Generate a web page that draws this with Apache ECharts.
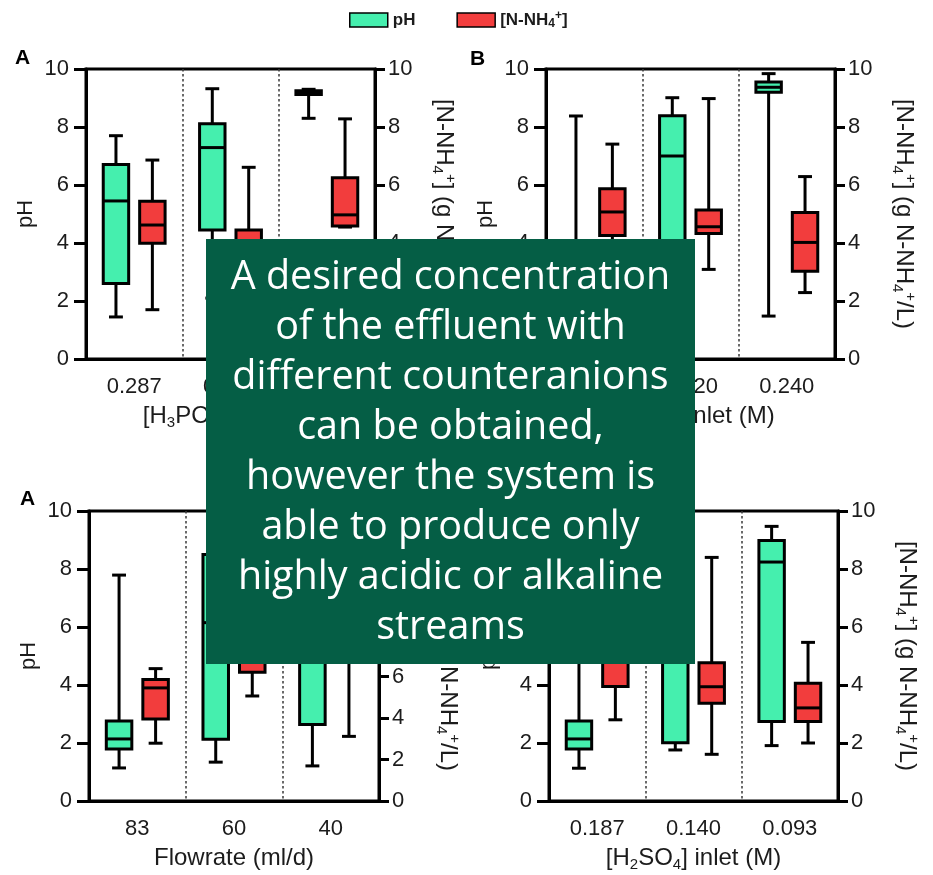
<!DOCTYPE html>
<html>
<head>
<meta charset="utf-8">
<script src="https://cdn.jsdelivr.net/npm/echarts@6/dist/echarts.min.js"></script>
<style>
  html, body { margin: 0; padding: 0; background: #ffffff; }
  #chart { width: 933px; height: 875px; }
</style>
</head>
<body>
<div id="chart"></div>
<script>
// Category labels of each panel
const catsA = ['0.287', '0.215', '0.143'];
const catsB = ['0.480', '0.320', '0.240'];
const catsC = ['83', '60', '40'];
const catsD = ['0.187', '0.140', '0.093'];

// Box statistics per category: [min, Q1, median, Q3, max]
const phA = [[1.45, 2.60, 5.45, 6.71, 7.70], [2.10, 4.45, 7.29, 8.11, 9.32], [8.30, 9.12, 9.18, 9.25, 9.30]];
const nhA = [[1.70, 3.99, 4.62, 5.44, 6.86], [2.40, 3.30, 3.90, 4.45, 6.61], [4.55, 4.59, 4.97, 6.25, 8.28]];
const phB = [[1.50, 2.00, 2.60, 3.50, 8.38], [2.00, 3.00, 7.00, 8.39, 9.01], [1.48, 9.20, 9.37, 9.55, 9.84]];
const nhB = [[3.30, 4.26, 5.07, 5.87, 7.41], [3.09, 4.33, 4.56, 5.14, 8.98], [2.29, 3.03, 4.02, 5.05, 6.29]];
const phC = [[1.14, 1.79, 2.14, 2.76, 7.79], [1.34, 2.13, 6.15, 8.50, 9.30], [1.21, 2.64, 6.00, 8.50, 9.50]];
const nhC = [[2.79, 3.96, 5.46, 5.87, 6.39], [5.07, 6.21, 7.00, 8.00, 9.50], [3.12, 7.00, 8.50, 10.00, 12.00]];
const phD = [[1.13, 1.79, 2.14, 2.76, 7.79], [1.76, 2.01, 6.00, 8.00, 9.00], [1.91, 2.74, 8.24, 8.98, 9.47]];
const nhD = [[2.80, 3.95, 5.46, 5.87, 6.39], [1.61, 3.37, 3.94, 4.77, 8.40], [2.00, 2.74, 3.21, 4.06, 5.47]];

// Right-axis ranges per panel
const rightMax = [10, 10, 14, 10];

const GREEN = '#45efae';
const RED = '#f23d3d';
const INK = '#1c1c1c';
const FONT = '"Liberation Sans", Arial, sans-serif';

function richName(size) {
  const sub = Math.round(size * 0.62);
  return {
    fontSize: size, fontFamily: FONT, color: INK, lineHeight: size + 4,
    rich: {
      sub: { fontSize: sub, fontFamily: FONT, color: INK, verticalAlign: 'bottom', lineHeight: 10 },
      sup: { fontSize: sub, fontFamily: FONT, color: INK, verticalAlign: 'top', lineHeight: 10 }
    }
  };
}
const bigName = richName(24);
const phName = richName(22);

const panels = [
  { cats: catsA, ph: phA, nh: nhA, xName: '[H{sub|3}PO{sub|4}] inlet (M)', grid: { left: 86, top: 69, width: 289, height: 290 } },
  { cats: catsB, ph: phB, nh: nhB, xName: '[HNO{sub|3}] inlet (M)', grid: { left: 546, top: 69, width: 289, height: 290 } },
  { cats: catsC, ph: phC, nh: nhC, xName: 'Flowrate (ml/d)', grid: { left: 89, top: 511, width: 290, height: 290 } },
  { cats: catsD, ph: phD, nh: nhD, xName: '[H{sub|2}SO{sub|4}] inlet (M)', grid: { left: 549, top: 511, width: 289, height: 290 } }
];

// Draws one box-and-whisker per category, shifted left (pH) or right (N-NH4+) inside the band
function makeBoxRenderer(side, color) {
  return function (params, api) {
    const cat = api.value(0);
    const band = api.size([1, 0])[0];
    const cx = api.coord([cat, 0])[0] + side * band * 0.189;
    const y = (i) => api.coord([cat, api.value(i)])[1];
    const yMin = y(1), yQ1 = y(2), yMed = y(3), yQ3 = y(4), yMax = y(5);
    const hw = band * 0.132;
    const cw = band * 0.072;
    const stroke = { stroke: '#000', lineWidth: 3 };
    return {
      type: 'group',
      children: [
        { type: 'line', shape: { x1: cx, y1: yMax, x2: cx, y2: yMin }, style: stroke },
        { type: 'line', shape: { x1: cx - cw, y1: yMax, x2: cx + cw, y2: yMax }, style: stroke },
        { type: 'line', shape: { x1: cx - cw, y1: yMin, x2: cx + cw, y2: yMin }, style: stroke },
        { type: 'rect', shape: { x: cx - hw, y: yQ3, width: hw * 2, height: yQ1 - yQ3 },
          style: { fill: color, stroke: '#000', lineWidth: 3 } },
        { type: 'line', shape: { x1: cx - hw, y1: yMed, x2: cx + hw, y2: yMed }, style: stroke }
      ]
    };
  };
}

const toItems = (stats) => stats.map((s, i) => [i].concat(s));

const grids = [], xAxes = [], yAxes = [], series = [];
panels.forEach((p, k) => {
  grids.push(Object.assign({ show: true, borderColor: '#000', borderWidth: 3, backgroundColor: 'transparent',
    outerBoundsMode: 'none', containLabel: false }, p.grid));
  xAxes.push({
    type: 'category', gridIndex: k, data: p.cats, boundaryGap: true,
    axisLine: { show: true, lineStyle: { color: '#000', width: 3 } },
    axisTick: { show: false },
    axisLabel: { fontSize: 22, fontFamily: FONT, color: INK, margin: 17 },
    splitLine: { show: true, lineStyle: { color: '#3a3a3a', width: 1.5, type: [2.5, 2.5] } },
    name: p.xName, nameLocation: 'middle', nameGap: 43, nameMoveOverlap: false,
    nameTextStyle: bigName, z: 0
  });
  yAxes.push({
    type: 'value', gridIndex: k, position: 'left', min: 0, max: 10, interval: 2,
    axisLine: { show: true, lineStyle: { color: '#000', width: 3 } },
    axisTick: { show: true, length: 12, lineStyle: { color: '#000', width: 3 } },
    axisLabel: { fontSize: 22, fontFamily: FONT, color: INK, margin: 17 },
    splitLine: { show: false },
    name: 'pH', nameLocation: 'middle', nameGap: 47, nameRotate: 90, nameMoveOverlap: false,
    nameTextStyle: phName, z: 5
  });
  yAxes.push({
    type: 'value', gridIndex: k, position: 'right', min: 0, max: rightMax[k], interval: 2,
    axisLine: { show: true, lineStyle: { color: '#000', width: 3 } },
    axisTick: { show: true, length: 10, lineStyle: { color: '#000', width: 3 } },
    axisLabel: { fontSize: 22, fontFamily: FONT, color: INK, margin: 13 },
    splitLine: { show: false },
    name: '[N-NH{sub|4}{sup|+}] (g N-NH{sub|4}{sup|+}/L)', nameLocation: 'middle', nameGap: 55,
    nameRotate: -90, nameMoveOverlap: false, nameTextStyle: bigName, z: 5
  });
  series.push({
    name: 'pH', type: 'custom', xAxisIndex: k, yAxisIndex: 2 * k,
    itemStyle: { color: GREEN }, renderItem: makeBoxRenderer(-1, GREEN),
    encode: { x: 0, y: [1, 2, 3, 4, 5] }, data: toItems(p.ph), z: 2
  });
  series.push({
    name: '[N-NH4+]', type: 'custom', xAxisIndex: k, yAxisIndex: 2 * k + 1,
    itemStyle: { color: RED }, renderItem: makeBoxRenderer(1, RED),
    encode: { x: 0, y: [1, 2, 3, 4, 5] }, data: toItems(p.nh), z: 2
  });
});

const legendText = { fontSize: 17, fontWeight: 'bold', fontFamily: FONT, color: INK, lineHeight: 20 };

const noteLines = [
  'A desired concentration',
  'of the effluent with',
  'different counteranions',
  'can be obtained,',
  'however the system is',
  'able to produce only',
  'highly acidic or alkaline',
  'streams'
];

const option = {
  animation: false,
  backgroundColor: '#ffffff',
  grid: grids,
  xAxis: xAxes,
  yAxis: yAxes,
  series: series,
  legend: {
    left: 349, top: 10, padding: 0, itemWidth: 38, itemHeight: 14, itemGap: 41, icon: 'rect',
    selectedMode: false,
    data: [
      { name: 'pH', itemStyle: { color: GREEN, borderColor: '#000', borderWidth: 1.5 } },
      { name: '[N-NH4+]', itemStyle: { color: RED, borderColor: '#000', borderWidth: 1.5 } }
    ],
    formatter: (n) => n === 'pH' ? 'pH' : '[N-NH{lsub|4}{lsup|+}]',
    textStyle: Object.assign({}, legendText, {
      rich: {
        lsub: { fontSize: 12, fontWeight: 'bold', fontFamily: FONT, color: INK, verticalAlign: 'bottom', lineHeight: 8 },
        lsup: { fontSize: 12, fontWeight: 'bold', fontFamily: FONT, color: INK, verticalAlign: 'top', lineHeight: 8 }
      }
    })
  },
  graphic: [
    { type: 'text', left: 15, top: 48, style: { text: 'A', fontSize: 21, fontWeight: 'bold', fontFamily: FONT, fill: '#000' } },
    { type: 'text', left: 470, top: 49, style: { text: 'B', fontSize: 21, fontWeight: 'bold', fontFamily: FONT, fill: '#000' } },
    { type: 'text', left: 20, top: 489, style: { text: 'A', fontSize: 21, fontWeight: 'bold', fontFamily: FONT, fill: '#000' } },
    { type: 'rect', left: 206, top: 239, z: 100, shape: { width: 489, height: 425 }, style: { fill: '#055e45' } },
    { type: 'text', z: 101, x: 450.5, y: 253,
      style: { text: noteLines.join('\n'), fill: '#ffffff', fontSize: 39.5, fontFamily: '"Open Sans", "Noto Sans", sans-serif',
        lineHeight: 50, align: 'center', verticalAlign: 'top' } }
  ]
};

const chart = echarts.init(document.getElementById('chart'), null, { renderer: 'canvas' });
chart.setOption(option);
</script>
</body>
</html>
